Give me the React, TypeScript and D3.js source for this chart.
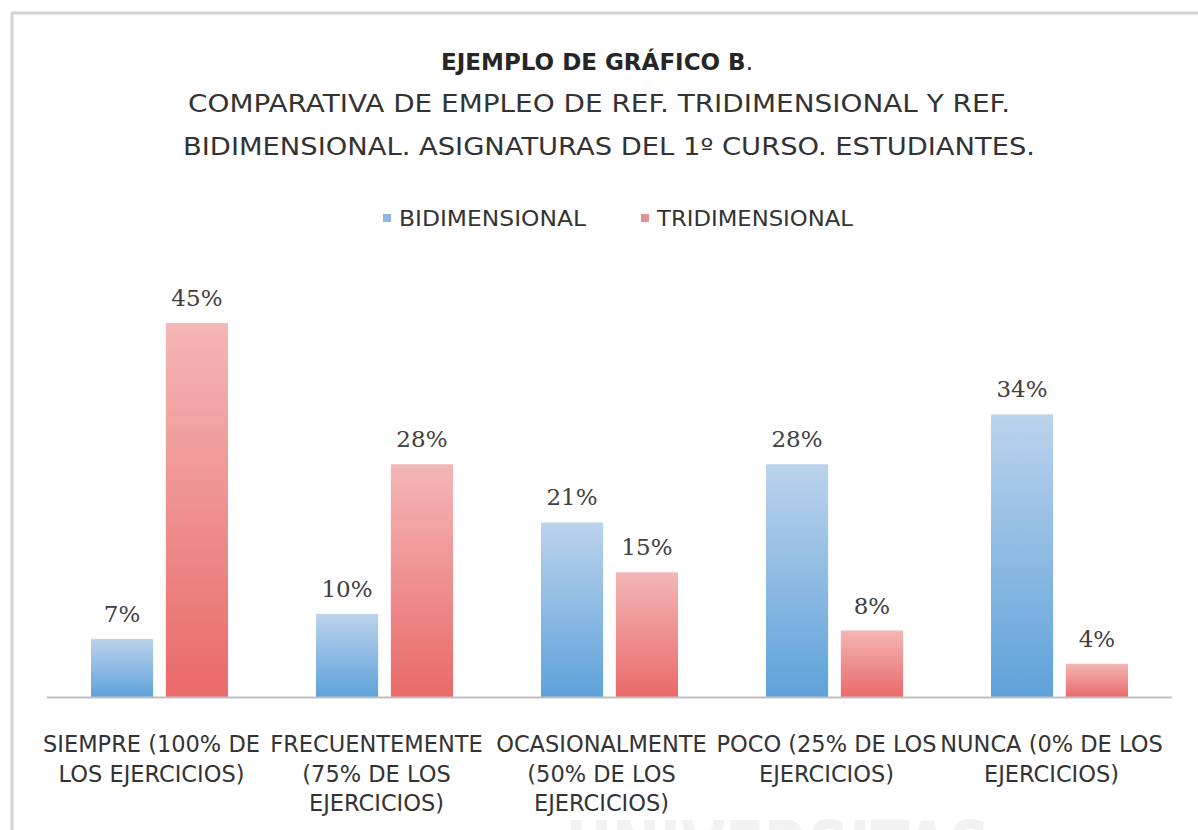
import React from "react";
import * as d3 from "d3";

const categories = ["SIEMPRE", "FRECUENTEMENTE", "OCASIONALMENTE", "POCO", "NUNCA"];
const categoryLines = [
  ["SIEMPRE (100% DE", "LOS EJERCICIOS)"],
  ["FRECUENTEMENTE", "(75% DE LOS", "EJERCICIOS)"],
  ["OCASIONALMENTE", "(50% DE LOS", "EJERCICIOS)"],
  ["POCO (25% DE LOS", "EJERCICIOS)"],
  ["NUNCA (0% DE LOS", "EJERCICIOS)"],
];
const seriesNames = ["BIDIMENSIONAL", "TRIDIMENSIONAL"];
const bidimensional = [7, 10, 21, 28, 34];
const tridimensional = [45, 28, 15, 8, 4];
const titleBold = "EJEMPLO DE GRÁFICO B";
const titleLines = [
  "COMPARATIVA DE EMPLEO DE REF. TRIDIMENSIONAL Y REF.",
  "BIDIMENSIONAL. ASIGNATURAS DEL 1º CURSO. ESTUDIANTES.",
];

const W = 1198;
const H = 830;
const baseY = 697;
const plotL = 47;
const plotR = 1172;
const sans = "'DejaVu Sans', sans-serif";
const serif = "'DejaVu Serif', serif";

export default function App() {
  const x0 = d3.scaleBand<string>().domain(categories).range([plotL, plotR]).padding(0);
  const bw = x0.bandwidth();
  const x1 = d3
    .scaleBand<string>()
    .domain(seriesNames)
    .range([(bw - 137) / 2, (bw + 137) / 2])
    .paddingInner(0.17);
  const y = d3.scaleLinear().domain([0, 45]).range([baseY, 323]);
  const values = [bidimensional, tridimensional];
  const grads = ["gBlue", "gRed"];
  const legendColors = ["#8db4e2", "#e8908f"];

  return (
    <svg
      width={W}
      height={H}
      style={{ position: "absolute", left: 0, top: 0, background: "#fff" }}
    >
      <defs>
        <linearGradient id="gBlue" x1="0" y1="0" x2="0" y2="1">
          <stop offset="0" stopColor="#bcd3ec" />
          <stop offset="1" stopColor="#5ea2da" />
        </linearGradient>
        <linearGradient id="gRed" x1="0" y1="0" x2="0" y2="1">
          <stop offset="0" stopColor="#f4b6b6" />
          <stop offset="1" stopColor="#e96a69" />
        </linearGradient>
      </defs>
      <rect x={0} y={0} width={W} height={H} fill="#fff" />
      {/* watermark */}
      <text
        x={778}
        y={872}
        textAnchor="middle"
        fontFamily={sans}
        fontWeight="bold"
        fontSize={72}
        fill="#f2f2f2"
        textLength={425}
        lengthAdjust="spacingAndGlyphs"
      >
        UNIVERSITAS
      </text>
      {/* border */}
      <line x1={11} x2={W} y1={13} y2={13} stroke="#d3d3d3" strokeWidth={3} />
      <line x1={12} x2={12} y1={13} y2={H} stroke="#d3d3d3" strokeWidth={3} />

      {/* title */}
      <text x={597} y={70} textAnchor="middle" fontFamily={sans} fontSize={23} fill="#262626">
        <tspan fontWeight="bold">{titleBold}</tspan>
        <tspan>.</tspan>
      </text>
      {titleLines.map((t, i) => (
        <text
          key={i}
          x={i === 0 ? 599 : 609}
          y={112 + i * 43}
          textAnchor="middle"
          fontFamily={sans}
          fontSize={24}
          fill="#333"
          textLength={i === 0 ? 822 : 852}
          lengthAdjust="spacingAndGlyphs"
        >
          {t}
        </text>
      ))}

      {/* legend */}
      {seriesNames.map((s, i) => {
        const lx = i === 0 ? 383 : 641;
        return (
          <g key={s}>
            <rect x={lx} y={214} width={8} height={8} fill={legendColors[i]} />
            <text
              x={lx + 16}
              y={226}
              fontFamily={sans}
              fontSize={21}
              fill="#333"
              textLength={i === 0 ? 187 : 196}
              lengthAdjust="spacingAndGlyphs"
            >
              {s}
            </text>
          </g>
        );
      })}

      {/* bars */}
      {categories.map((c, ci) => (
        <g key={c} transform={`translate(${x0(c)},0)`}>
          {seriesNames.map((s, si) => {
            const v = values[si][ci];
            const bx = x1(s)!;
            return (
              <g key={s}>
                <rect
                  x={bx}
                  y={y(v)}
                  width={x1.bandwidth()}
                  height={baseY - y(v)}
                  fill={`url(#${grads[si]})`}
                />
                <text
                  x={bx + x1.bandwidth() / 2}
                  y={y(v) - 17}
                  textAnchor="middle"
                  fontFamily={serif}
                  fontSize={23}
                  fill="#404040"
                >
                  {v}%
                </text>
              </g>
            );
          })}
        </g>
      ))}

      {/* axis */}
      <line x1={plotL} x2={plotR} y1={baseY + 0.5} y2={baseY + 0.5} stroke="#bfbfbf" strokeWidth={2} />

      {/* category labels */}
      {categories.map((c, ci) => (
        <g key={c}>
          {categoryLines[ci].map((ln, li) => (
            <text
              key={li}
              x={x0(c)! + bw / 2 - 8}
              y={752 + li * 29.5}
              textAnchor="middle"
              fontFamily={sans}
              fontSize={22.5}
              fill="#333"
            >
              {ln}
            </text>
          ))}
        </g>
      ))}
    </svg>
  );
}
